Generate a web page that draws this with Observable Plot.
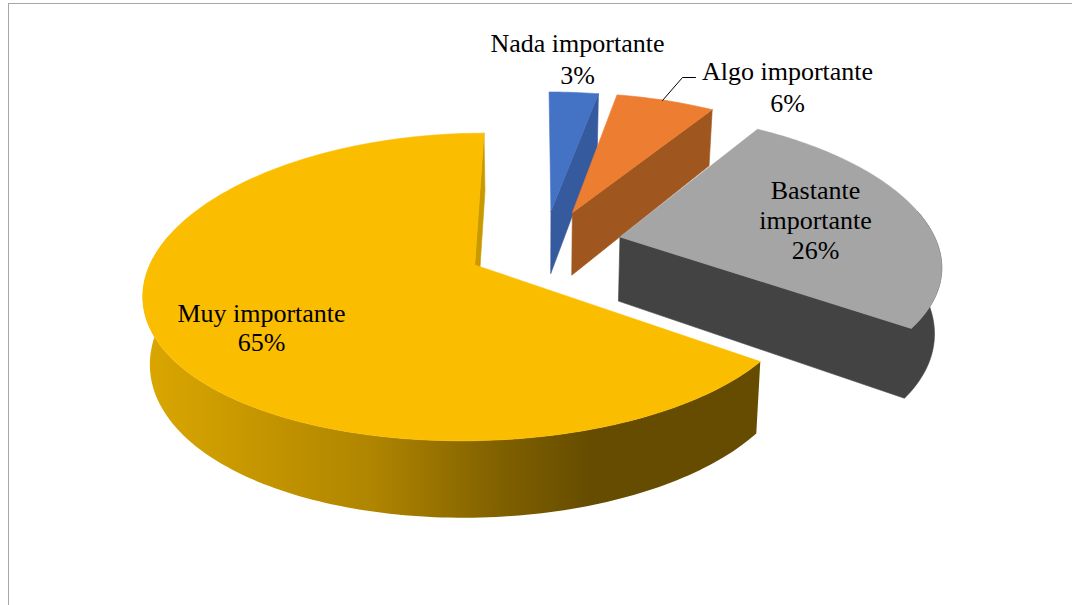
<!DOCTYPE html>
<html><head><meta charset="utf-8">
<script src="https://cdn.jsdelivr.net/npm/d3@7"></script>
<script src="https://cdn.jsdelivr.net/npm/@observablehq/plot@0.6"></script>
<style>html,body{margin:0;padding:0;background:#fff}svg{display:block}</style>
</head><body><div id="chart"></div>
<script>
const categories = ["Nada importante","Algo importante","Bastante importante","Muy importante"];
const shares = [3,6,26,65];
const labelLines = [["Nada importante","3%"],["Algo importante","6%"],["Bastante","importante","26%"],["Muy importante","65%"]];

// view of the tilted pie
const view = {cx:537, cy:251, rx:320, ry:146.8, k:0.142, kx:0.17, depth:65, shrink:0.982};
const explodeU = [0.044,0.114,0.262,-0.193];
const explodeV = [-0.285,-0.275,-0.1,0.09];
const topColors = ["#4472c4","#ed7d31","#a5a5a5","#fbbd00"];
const sideColors = ["#355a9e","#a0561f","#434343","url(#yellowSide)"];
const labelAt = [[577,43,32],[787,71,32],[815,190,30],[261,313,29]];

function project(u,v,low){
  const X = view.cx + view.rx*u/(1-view.kx*v);
  const Y = view.cy + view.ry*v/(1-view.k*v);
  if(!low) return {x:X,y:Y};
  return {x:view.cx+(X-view.cx)*view.shrink, y:Y+view.depth/(1-view.k*v)};
}
const total = d3.sum(shares);
let acc = 0;
const slices = shares.map((s,i)=>{const a0=acc/total*2*Math.PI; acc+=s; return {i,a0,a1:acc/total*2*Math.PI};});

function rim(sl,low){
  const n=Math.max(2,Math.ceil((sl.a1-sl.a0)/0.02));
  return d3.range(n+1).map(j=>{
    const a=sl.a0+(sl.a1-sl.a0)*j/n;
    return project(explodeU[sl.i]+Math.sin(a),explodeV[sl.i]-Math.cos(a),low);
  });
}
const marks=[];
const poly=(pts,fill,width=0.6)=>marks.push(Plot.line([...pts,pts[0]],{x:"x",y:"y",fill,stroke:width?fill:"none",strokeWidth:width,curve:"linear"}));
for(const sl of slices){
  const i=sl.i, top=rim(sl,false), low=rim(sl,true);
  const apex=project(explodeU[i],explodeV[i],false), apexLow=project(explodeU[i],explodeV[i],true);
  const last=top.length-1;
  const wallIdx=d3.range(top.length).filter(j=>Math.cos(sl.a0+(sl.a1-sl.a0)*j/last)<0.2);
  if(i===3){
    poly([top[last],low[last],apexLow,apex],"#c89a00");
    poly([...wallIdx.map(j=>top[j]),...wallIdx.map(j=>low[j]).reverse()],sideColors[i],0);
  } else if(i===2){
    // cut face and outer wall share one outline, so no seam shows between them
    poly([apex,...wallIdx.map(j=>top[j]).reverse(),...wallIdx.map(j=>low[j]),apexLow],sideColors[i]);
  } else {
    poly([top[last],low[last],apexLow,apex],sideColors[i]);
  }
  poly([apex,...top],topColors[i]);
}
const labels=labelLines.flatMap((lines,i)=>lines.map((text,j)=>({text,x:labelAt[i][0],y:labelAt[i][1]+j*labelAt[i][2]})));

const chart=Plot.plot({
  width:1072,height:605,margin:0,
  x:{domain:[0,1072],range:[0,1072],axis:null},
  y:{domain:[0,605],range:[0,605],axis:null},
  style:{background:"#fff"},
  marks:[
    ()=>{const ns="http://www.w3.org/2000/svg";
      const defs=document.createElementNS(ns,"defs");
      defs.innerHTML=`<linearGradient id="yellowSide" gradientUnits="userSpaceOnUse" x1="150" x2="590" y1="0" y2="0">
        <stop offset="0" stop-color="#d9a600"/><stop offset="0.5" stop-color="#b08500"/><stop offset="0.8" stop-color="#7f6000"/><stop offset="1" stop-color="#664c00"/></linearGradient>`;
      return defs;},
    Plot.ruleY([3],{x1:8,x2:1072,stroke:"#a6a6a6",strokeWidth:1}),
    Plot.ruleX([8],{y1:3,y2:605,stroke:"#a6a6a6",strokeWidth:1}),
    ...marks,
    Plot.line([{x:662,y:100},{x:682,y:77},{x:695,y:77}],{x:"x",y:"y",stroke:"#000",strokeWidth:1}),
    Plot.text(labels,{x:"x",y:"y",text:"text",fill:"#000",fontFamily:"Liberation Serif",fontSize:26,textAnchor:"middle"})
  ]
});
document.getElementById("chart").append(chart);
</script></body></html>
